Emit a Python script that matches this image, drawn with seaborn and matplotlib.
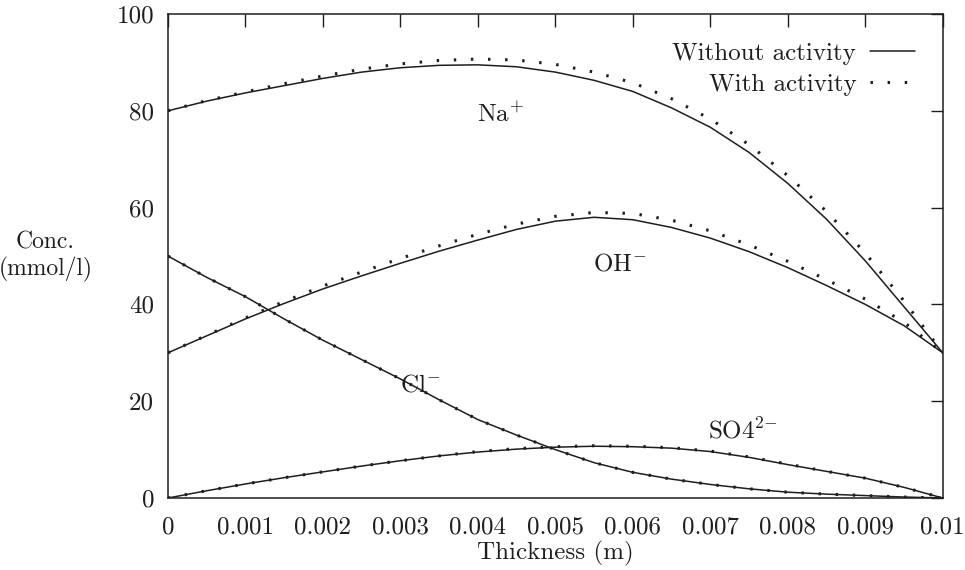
import matplotlib
matplotlib.use("Agg")
import matplotlib.pyplot as plt
from matplotlib.lines import Line2D
import pandas as pd
import seaborn as sns

# Thickness grid (m)
thickness = [0.0, 0.0005, 0.001, 0.0015, 0.002, 0.0025, 0.003, 0.0035, 0.004, 0.0045,
             0.005, 0.0055, 0.006, 0.0065, 0.007, 0.0075, 0.008, 0.0085, 0.009, 0.0095, 0.01]

# Concentrations (mmol/l) without activity correction
na_plain = [80.0, 82.0, 83.7, 85.2, 86.7, 88.0, 88.9, 89.4, 89.5, 89.1,
            88.0, 86.3, 84.0, 80.6, 76.6, 71.4, 65.0, 57.6, 49.0, 39.5, 30.0]
oh_plain = [30.0, 33.5, 37.0, 40.2, 43.2, 45.9, 48.5, 51.0, 53.3, 55.5,
            57.2, 58.0, 57.5, 55.9, 53.7, 50.9, 47.6, 43.9, 40.0, 35.6, 30.0]
cl_plain = [50.0, 45.6, 41.6, 37.0, 32.6, 28.6, 24.6, 20.3, 16.2, 13.0,
            10.0, 7.3, 5.3, 3.9, 2.8, 1.9, 1.2, 0.8, 0.5, 0.2, 0.0]
so4_plain = [0.0, 1.5, 2.9, 4.2, 5.4, 6.6, 7.7, 8.7, 9.5, 10.1,
             10.5, 10.7, 10.6, 10.3, 9.6, 8.4, 6.9, 5.5, 4.1, 2.2, 0.0]

# Concentrations (mmol/l) with activity correction
na_act = [80.0, 82.1, 83.9, 85.6, 87.2, 88.6, 89.7, 90.4, 90.7, 90.5,
          89.6, 88.0, 85.8, 82.5, 78.3, 73.0, 66.6, 59.2, 50.6, 40.7, 30.0]
oh_act = [30.0, 33.6, 37.2, 40.6, 43.8, 46.7, 49.5, 52.1, 54.5, 56.6,
          58.2, 59.0, 58.8, 57.4, 55.2, 52.3, 48.9, 45.1, 41.1, 36.3, 30.0]
cl_act = [50.0, 45.6, 41.6, 37.0, 32.6, 28.6, 24.6, 20.3, 16.2, 13.0,
          10.0, 7.3, 5.3, 3.9, 2.8, 1.9, 1.2, 0.8, 0.5, 0.2, 0.0]
so4_act = [0.0, 1.5, 2.9, 4.2, 5.4, 6.6, 7.7, 8.7, 9.6, 10.2,
           10.6, 10.8, 10.7, 10.4, 9.7, 8.5, 7.0, 5.5, 4.1, 2.2, 0.0]

ion_labels = ["Na$^{+}$", "OH$^{-}$", "Cl$^{-}$", "SO4$^{2{-}}$"]
label_pos = [(0.00399, 77.8), (0.00548, 47.1), (0.00299, 22.0), (0.00697, 12.4)]

x_ticks = [0, 0.001, 0.002, 0.003, 0.004, 0.005, 0.006, 0.007, 0.008, 0.009, 0.01]
x_tick_labels = ["0", "0.001", "0.002", "0.003", "0.004", "0.005",
                 "0.006", "0.007", "0.008", "0.009", "0.01"]
y_ticks = [0, 20, 40, 60, 80, 100]

sns.set_style("white")
plt.rcParams["font.family"] = ["cmr10", "DejaVu Serif"]
plt.rcParams["mathtext.fontset"] = "cm"
plt.rcParams["axes.formatter.use_mathtext"] = True

ink = "#1e1e1e"
dotted = (0, (0.8, 4.8))
fig = plt.figure(figsize=(9.65, 5.70), dpi=100)
ax = fig.add_axes([0.174, 0.1263, 0.803, 0.8491])

frames = []
for name, plain, act in zip(ion_labels, [na_plain, oh_plain, cl_plain, so4_plain],
                            [na_act, oh_act, cl_act, so4_act]):
    frames.append(pd.DataFrame({"x": thickness, "c": plain, "ion": name, "model": "Without activity"}))
    frames.append(pd.DataFrame({"x": thickness, "c": act, "ion": name, "model": "With activity"}))
df = pd.concat(frames, ignore_index=True)

for (ion, model), sub in df.groupby(["ion", "model"], sort=False):
    if model == "Without activity":
        sns.lineplot(data=sub, x="x", y="c", ax=ax, color=ink, lw=1.1,
                     estimator=None, sort=False)
    else:
        sns.lineplot(data=sub, x="x", y="c", ax=ax, color=ink, lw=2.2,
                     linestyle=dotted, dash_capstyle="butt",
                     estimator=None, sort=False)

for text, (tx, ty) in zip(ion_labels, label_pos):
    ax.text(tx, ty, text, fontsize=18, color=ink, ha="left", va="baseline")

ax.set_xlim(0, 0.01)
ax.set_ylim(0, 100)
ax.set_xticks(x_ticks)
ax.set_xticklabels(x_tick_labels)
ax.set_yticks(y_ticks)
ax.set_yticklabels([str(v) for v in y_ticks])
ax.tick_params(axis="both", which="major", direction="in", length=9, width=1.0,
               color=ink, labelcolor=ink, labelsize=18, top=True, right=True)
ax.tick_params(axis="x", pad=13)
ax.tick_params(axis="y", pad=10)
for s in ax.spines.values():
    s.set_visible(True)
    s.set_color(ink)
    s.set_linewidth(1.1)

ax.set_xlabel("Thickness (m)", fontsize=18, color=ink, labelpad=0)
ax.xaxis.set_label_coords(0.5, -0.088)
ax.set_ylabel("Conc.\n(mmol/l)", fontsize=17, color=ink, rotation=0,
              multialignment="center", va="center", ha="center")
ax.yaxis.set_label_coords(-0.158, 0.498)

handles = [Line2D([], [], color=ink, lw=1.1),
           Line2D([], [], color=ink, lw=2.2, linestyle=dotted, dash_capstyle="butt")]
leg = ax.legend(handles, ["Without activity", "With activity"], loc="upper right",
                bbox_to_anchor=(0.964, 0.942), bbox_transform=ax.transAxes,
                frameon=False, markerfirst=False, fontsize=18, handlelength=1.8,
                handletextpad=0.55, labelspacing=0.35, borderaxespad=0.0,
                borderpad=0.0)
for t in leg.get_texts():
    t.set_color(ink)
    t.set_ha("right")
leg._legend_box.align = "right"

fig.savefig("out.png", dpi=100, facecolor="white")
